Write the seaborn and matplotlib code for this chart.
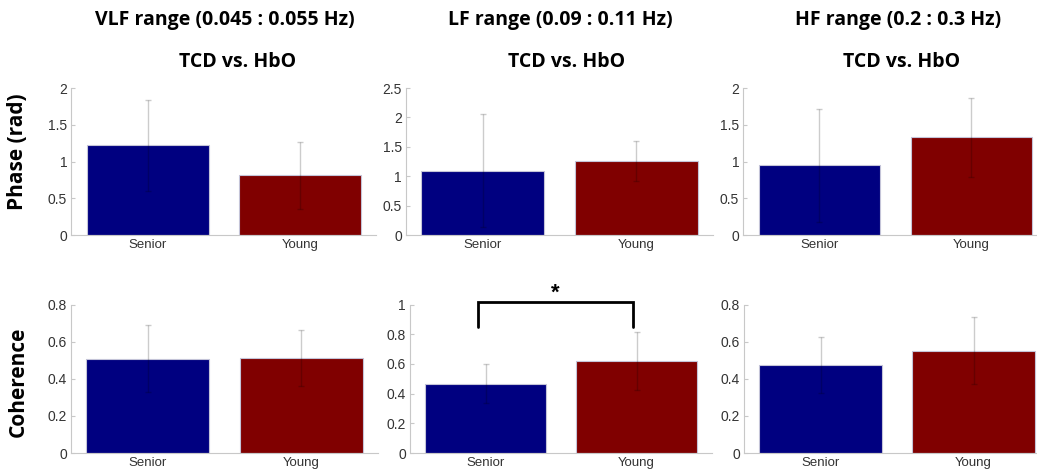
import matplotlib
matplotlib.use("Agg")
import matplotlib.pyplot as plt
import matplotlib.ticker as mticker
import numpy as np
import pandas as pd
import seaborn as sns

# ---- data -------------------------------------------------------------
bands = ["VLF range (0.045 : 0.055 Hz)", "LF range (0.09 : 0.11 Hz)", "HF range (0.2 : 0.3 Hz)"]
groups = ["Senior", "Young"]

phase_vlf = [1.22, 0.81]
phase_lf = [1.09, 1.26]
phase_hf = [0.95, 1.33]
phase_sd_vlf = [0.62, 0.45]
phase_sd_lf = [0.96, 0.34]
phase_sd_hf = [0.77, 0.54]

coh_vlf = [0.507, 0.513]
coh_lf = [0.467, 0.622]
coh_hf = [0.475, 0.551]
coh_sd_vlf = [0.18, 0.15]
coh_sd_lf = [0.13, 0.195]
coh_sd_hf = [0.15, 0.18]

phase_ymax = [2.0, 2.5, 2.0]
coh_ymax = [0.8, 1.0, 0.8]

# significance bracket (LF coherence, Senior vs. Young)
sig_x = [-0.05, 0.98]
sig_y_low, sig_y_high = 0.85, 1.02
sig_star_y = 1.075

# ---- style ------------------------------------------------------------
sns.set_theme(style="white")
plt.rcParams["font.family"] = ["Liberation Sans", "DejaVu Sans"]

bar_colors = {"Senior": "#000080", "Young": "#800000"}
tick_color = "#333333"
spine_color = "#c8c8c8"

W, H = 1037, 473
fig = plt.figure(figsize=(W / 100, H / 100), dpi=100)


def px_axes(x0, x1, y_top, y_bot):
    return fig.add_axes([x0 / W, 1 - y_bot / H, (x1 - x0) / W, (y_bot - y_top) / H])


top_cols = [(71.3, 376.3), (406, 713), (743.4, 1047.5)]
bot_cols = [(71, 378), (410, 712), (744, 1050)]

rows = [
    dict(means=[phase_vlf, phase_lf, phase_hf], sds=[phase_sd_vlf, phase_sd_lf, phase_sd_hf],
         ymax=phase_ymax, step=0.5, cols=top_cols, ytop=88, ybot=235),
    dict(means=[coh_vlf, coh_lf, coh_hf], sds=[coh_sd_vlf, coh_sd_lf, coh_sd_hf],
         ymax=coh_ymax, step=0.2, cols=bot_cols, ytop=304.5, ybot=453),
]

axes_grid = []
for row in rows:
    axes_row = []
    for j in range(3):
        x0, x1 = row["cols"][j]
        ax = px_axes(x0, x1, row["ytop"], row["ybot"])
        df = pd.DataFrame({"group": groups, "value": row["means"][j], "sd": row["sds"][j]})
        sns.barplot(data=df, x="group", y="value", hue="group", palette=bar_colors,
                    order=groups, errorbar=None, width=0.8, legend=False,
                    edgecolor="#c4c4d8", linewidth=0.8, saturation=1, ax=ax)
        centers = [p.get_x() + p.get_width() / 2 for p in ax.patches]
        heights = [p.get_height() for p in ax.patches]
        ax.errorbar(centers, heights, yerr=df["sd"], fmt="none", ecolor="black",
                    alpha=0.2, elinewidth=1.0, capsize=2, capthick=1.0, zorder=5)
        ax.set_xlim(-0.5, 1.5)
        ax.set_ylim(0, row["ymax"][j])
        ax.yaxis.set_major_locator(mticker.MultipleLocator(row["step"]))
        ax.yaxis.set_major_formatter(mticker.FuncFormatter(lambda v, _: f"{v:g}"))
        ax.set_xlabel("")
        ax.set_ylabel("")
        for s in ["top", "right"]:
            ax.spines[s].set_visible(False)
        for s in ["left", "bottom"]:
            ax.spines[s].set_color(spine_color)
            ax.spines[s].set_linewidth(0.8)
        ax.tick_params(axis="y", direction="in", length=3, width=0.8, color=spine_color,
                       labelsize=10, labelcolor=tick_color, pad=3, left=True)
        ax.tick_params(axis="x", length=0, labelsize=9.5, labelcolor=tick_color, pad=3)
        axes_row.append(ax)
    axes_grid.append(axes_row)

# significance bracket on LF coherence
ax_sig = axes_grid[1][1]
ax_sig.plot([sig_x[0], sig_x[0], sig_x[1], sig_x[1]],
            [sig_y_low, sig_y_high, sig_y_high, sig_y_low],
            color="black", lw=2, clip_on=False, solid_joinstyle="miter", zorder=6)
ax_sig.text(np.mean(sig_x), sig_star_y, "*", ha="center", va="center",
            fontsize=16, fontweight="bold", color="black", clip_on=False)

# column headers
title_font = dict(family=["Open Sans", "DejaVu Sans"], fontweight="bold", color="black")
band_x = [225, 560, 898]
sub_x = [238, 567, 902]
for j in range(3):
    fig.text(band_x[j] / W, 1 - 20 / H, bands[j], ha="center", va="center", fontsize=14, **title_font)
    fig.text(sub_x[j] / W, 1 - 62 / H, "TCD vs. HbO", ha="center", va="center", fontsize=14, **title_font)

# row labels
fig.text(18 / W, 1 - 152 / H, "Phase (rad)", rotation=90, ha="center", va="center", fontsize=15, **title_font)
fig.text(18 / W, 1 - 382 / H, "Coherence", rotation=90, ha="center", va="center", fontsize=15, **title_font)

fig.savefig("out.png", dpi=100)
